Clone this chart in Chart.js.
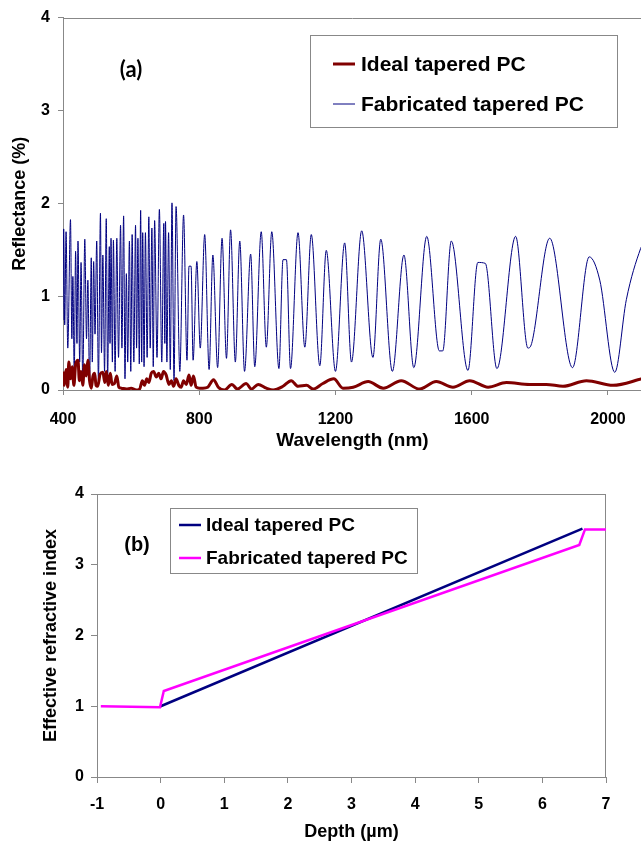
<!DOCTYPE html>
<html>
<head>
<meta charset="utf-8">
<script src="https://cdn.jsdelivr.net/npm/chart.js@4.4.1/dist/chart.umd.min.js"></script>
<style>
  html, body { margin: 0; padding: 0; background: #fff; width: 641px; height: 845px; overflow: hidden; }
  #top { position: absolute; left: 0; top: 0; }
  #bot { position: absolute; left: 0; top: 460px; }
</style>
</head>
<body>
<canvas id="top" width="645" height="455"></canvas>
<canvas id="bot" width="641" height="385"></canvas>
<script>
// (a) reflectance spectra (peaks / troughs)
const waveTicks = [400, 800, 1200, 1600, 2000];
const fabWl = [
  400, 402, 405, 409, 414, 422, 426, 429, 433, 437,
  441, 444, 449, 453, 458, 464, 469, 473, 478, 483,
  486, 490, 494, 499, 504, 510, 513, 517, 522, 527,
  531, 536, 538, 541, 545, 548, 553, 558, 563, 569,
  573, 578, 582, 586, 590, 595, 599, 603, 608, 613,
  616, 620, 624, 628, 631, 634, 638, 642, 647, 652,
  656, 661, 665, 669, 676, 683, 690, 696, 699, 701,
  705, 710, 715, 720, 726, 732, 743, 754, 764, 770,
  776, 782, 793, 803, 816, 829, 840, 854, 867, 880,
  892, 906, 919, 933, 951, 963, 982, 997, 1013, 1034,
  1046, 1056, 1068, 1090, 1110, 1129, 1154, 1173, 1200, 1227,
  1247, 1277, 1310, 1333, 1367, 1401, 1430, 1468, 1505, 1515,
  1540, 1589, 1618, 1640, 1674, 1729, 1765, 1776, 1829, 1896,
  1945, 1976, 2020, 2054, 2096, 2100
];
const fabR = [
  0.75, 1.73, 0.70, 1.70, 0.45, 1.83, 0.55, 1.22, 0.15, 1.49,
  0.50, 1.60, 0.30, 1.37, 0.08, 1.62, 0.55, 1.18, 0.05, 1.42,
  0.30, 1.38, 0.60, 1.60, 0.10, 1.90, 0.40, 1.45, 0.20, 1.84,
  0.12, 1.54, 0.50, 1.63, 0.30, 1.61, 0.20, 1.63, 0.35, 1.77,
  0.45, 1.87, 0.12, 1.25, 0.30, 1.60, 0.20, 1.67, 0.30, 1.77,
  0.45, 1.63, 0.28, 1.93, 0.30, 1.69, 0.25, 1.69, 0.35, 1.86,
  0.45, 1.74, 0.25, 1.82, 0.35, 1.94, 0.30, 1.79, 0.50, 1.81,
  0.30, 1.69, 0.22, 2.01, 0.10, 1.97, 0.20, 1.88, 0.32, 1.33,
  1.33, 0.32, 1.38, 0.45, 1.67, 0.22, 1.45, 0.24, 1.63, 0.34,
  1.72, 0.30, 1.60, 0.20, 1.46, 0.25, 1.70, 0.46, 1.70, 0.23,
  1.40, 1.40, 0.23, 1.69, 0.46, 1.67, 0.26, 1.50, 0.20, 1.58,
  0.30, 1.71, 0.35, 1.62, 0.20, 1.45, 0.24, 1.65, 0.42, 0.42,
  1.60, 0.21, 1.37, 1.36, 0.23, 1.65, 0.45, 0.50, 1.63, 0.24,
  1.43, 1.18, 0.19, 0.97, 1.52, 1.55
];

const idealWl = [
  400, 404, 409, 414, 417, 422, 427, 432, 437, 444,
  448, 453, 458, 463, 468, 473, 478, 483, 488, 493,
  497, 502, 509, 517, 523, 527, 533, 539, 544, 551,
  558, 564, 571, 586, 600, 615, 625, 633, 639, 646,
  652, 659, 666, 674, 681, 688, 695, 703, 711, 718,
  725, 732, 740, 747, 754, 762, 770, 776, 783, 791,
  801, 811, 825, 842, 856, 874, 896, 912, 938, 953,
  973, 997, 1017, 1046, 1070, 1090, 1115, 1134, 1163, 1195,
  1222, 1252, 1296, 1340, 1393, 1447, 1496, 1545, 1594, 1648,
  1702, 1770, 1819, 1868, 1937, 2015, 2100
];
const idealR = [
  0.20, 0.05, 0.22, 0.03, 0.30, 0.12, 0.25, 0.05, 0.27, 0.32,
  0.10, 0.20, 0.05, 0.27, 0.15, 0.32, 0.10, 0.02, 0.15, 0.18,
  0.05, 0.04, 0.17, 0.19, 0.08, 0.20, 0.05, 0.18, 0.06, 0.07,
  0.15, 0.03, 0.02, 0.01, 0.02, 0.00, 0.01, 0.10, 0.05, 0.12,
  0.08, 0.18, 0.20, 0.14, 0.18, 0.12, 0.20, 0.16, 0.06, 0.10,
  0.04, 0.12, 0.05, 0.03, 0.10, 0.06, 0.16, 0.05, 0.15, 0.03,
  0.02, 0.02, 0.03, 0.11, 0.03, 0.00, 0.06, 0.01, 0.07, 0.01,
  0.06, 0.02, 0.00, 0.04, 0.10, 0.04, 0.05, 0.01, 0.07, 0.12,
  0.02, 0.03, 0.09, 0.02, 0.10, 0.01, 0.09, 0.03, 0.10, 0.03,
  0.08, 0.06, 0.06, 0.04, 0.10, 0.05, 0.12
];

// (b) index profiles
const depthIdeal = [0, 6.63];
const nIdeal = [1, 3.51];
const depthFab = [-0.94, -0.01, 0.05, 6.58, 6.67, 7];
const nFab = [1, 0.985, 1.215, 3.28, 3.5, 3.5];

const pts = (xs, ys) => xs.map((x, i) => ({ x: x, y: ys[i] }));

Chart.defaults.font.family = '"Liberation Sans", Arial, sans-serif';
Chart.defaults.font.weight = 'bold';
Chart.defaults.color = '#000';

// grey frame on top / right of the plot area
const frame = {
  id: 'frame',
  beforeDatasetsDraw(chart) {
    const a = chart.chartArea, ctx = chart.ctx;
    ctx.save();
    ctx.strokeStyle = '#888';
    ctx.lineWidth = 1;
    ctx.beginPath();
    ctx.moveTo(a.left, Math.round(a.top) + 0.5);
    ctx.lineTo(a.right, Math.round(a.top) + 0.5);
    ctx.moveTo(Math.round(a.right) - 0.5, a.top);
    ctx.lineTo(Math.round(a.right) - 0.5, a.bottom);
    ctx.stroke();
    ctx.restore();
  }
};

// boxed legend + panel letter
const notes = {
  id: 'notes',
  afterDraw(chart, args, o) {
    const ctx = chart.ctx;
    ctx.save();
    const b = o.box;
    ctx.fillStyle = '#fff';
    ctx.fillRect(b[0], b[1], b[2], b[3]);
    ctx.strokeStyle = '#888';
    ctx.lineWidth = 1;
    ctx.strokeRect(b[0] + 0.5, b[1] + 0.5, b[2], b[3]);
    ctx.font = o.font;
    ctx.textBaseline = 'middle';
    ctx.textAlign = 'left';
    o.rows.forEach((y, i) => {
      const ds = chart.data.datasets[i];
      ctx.strokeStyle = ds.borderColor;
      ctx.lineWidth = ds.borderWidth;
      ctx.beginPath();
      ctx.moveTo(o.lineX[0], y);
      ctx.lineTo(o.lineX[1], y);
      ctx.stroke();
      ctx.fillStyle = '#000';
      ctx.fillText(ds.label, o.textX, y + 1);
    });
    ctx.font = o.tagFont;
    ctx.textAlign = 'center';
    ctx.fillText(o.tag, o.tagPos[0], o.tagPos[1]);
    ctx.restore();
  }
};

function axis(min, max, step, tickPad, fit, title, titleSize, titlePad) {
  return {
    type: 'linear', min: min, max: max,
    ticks: { stepSize: step, includeBounds: false, autoSkip: false, padding: tickPad,
             font: { size: 16, weight: 'bold' }, color: '#000', callback: v => String(v) },
    grid: { display: true, drawOnChartArea: false, drawTicks: true, tickLength: 5, color: '#888' },
    border: { display: true, color: '#888', width: 1 },
    title: { display: true, text: title, font: { size: titleSize, weight: 'bold' }, color: '#000', padding: titlePad },
    afterFit: fit
  };
}

const xa = axis(400, 2100, 400, 15, s => { s.height = 65; }, 'Wavelength (nm)', 19, { top: 0, bottom: 3 });
xa.afterBuildTicks = s => { s.ticks = waveTicks.map(v => ({ value: v })); };

new Chart(document.getElementById('top'), {
  type: 'line',
  data: {
    datasets: [
      { label: 'Ideal tapered PC', data: pts(idealWl, idealR), borderColor: '#800000', borderWidth: 3,
        pointRadius: 0, cubicInterpolationMode: 'monotone', tension: 0.4 },
      { label: 'Fabricated tapered PC', data: pts(fabWl, fabR), borderColor: '#000080', borderWidth: 1,
        pointRadius: 0, cubicInterpolationMode: 'monotone', tension: 0.4 }
    ]
  },
  options: {
    responsive: false, animation: false,
    layout: { padding: { left: 0, top: 17, right: 3, bottom: 0 } },
    plugins: {
      legend: { display: false }, tooltip: { enabled: false },
      notes: {
        box: [310, 35, 307, 92], rows: [64, 104], lineX: [333, 355], textX: 361,
        font: 'bold 21px "Liberation Sans", Arial, sans-serif',
        tag: '(a)', tagPos: [131, 70], tagFont: 'bold 22px Lato, "Open Sans", sans-serif'
      }
    },
    scales: {
      x: xa,
      y: axis(0, 4, 1, 8, s => { s.width = 63; }, 'Reflectance (%)', 18, { top: 9, bottom: 0 })
    }
  },
  plugins: [frame, notes]
});

const yb = axis(0, 4, 1, 7, s => { s.width = 97; }, 'Effective refractive index', 18, { top: 40, bottom: 0 });
yb.grid.tickLength = 6;
const xb = axis(-1, 7, 1, 12, s => { s.height = 68; }, 'Depth (\u00b5m)', 18, { top: 0, bottom: 2 });
xb.grid.tickLength = 6;

new Chart(document.getElementById('bot'), {
  type: 'line',
  data: {
    datasets: [
      { label: 'Ideal tapered PC', data: pts(depthIdeal, nIdeal), borderColor: '#000080', borderWidth: 2.5,
        pointRadius: 0, order: 1 },
      { label: 'Fabricated tapered PC', data: pts(depthFab, nFab), borderColor: '#ff00ff', borderWidth: 2.5,
        pointRadius: 0, order: 0 }
    ]
  },
  options: {
    responsive: false, animation: false,
    layout: { padding: { left: 0, top: 34, right: 35, bottom: 0 } },
    plugins: {
      legend: { display: false }, tooltip: { enabled: false },
      notes: {
        box: [170, 48, 247, 65], rows: [65, 98], lineX: [179, 201], textX: 206,
        font: 'bold 19px "Liberation Sans", Arial, sans-serif',
        tag: '(b)', tagPos: [137, 85], tagFont: 'bold 20px "Liberation Sans", Arial, sans-serif'
      }
    },
    scales: { x: xb, y: yb }
  },
  plugins: [frame, notes]
});
</script>
</body>
</html>
